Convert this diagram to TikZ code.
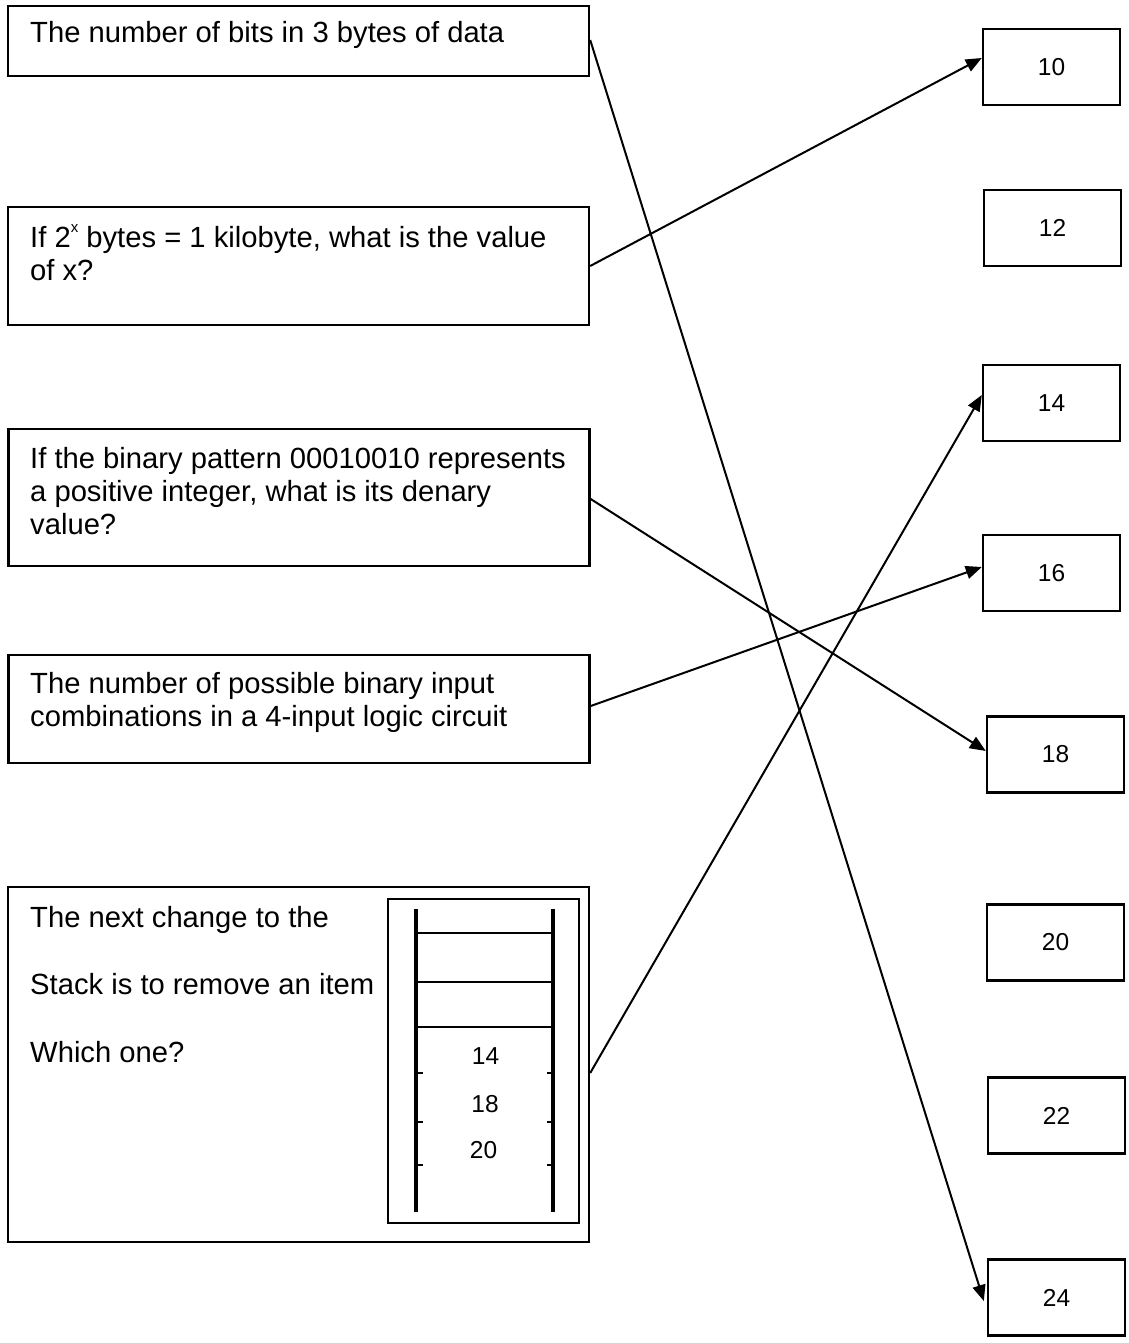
\documentclass[tikz,border=0pt]{standalone}
\usepackage{fontspec}
\setmainfont{Liberation Sans}
\usetikzlibrary{arrows.meta,calc}
\begin{document}
\begin{tikzpicture}[x=1pt,y=-1pt,
  qbox/.style={draw,line width=2.4pt,rectangle,inner sep=0pt,minimum width=581pt},
  abox/.style={draw,line width=2.4pt,rectangle,inner sep=0pt,minimum width=137pt,minimum height=76pt,font=\fontsize{24.5}{28}\selectfont},
  qtext/.style={anchor=base west,inner sep=0pt,font=\fontsize{29.2}{34}\selectfont},
  link/.style={line width=2pt,-{Triangle[length=16pt,width=13pt]}},
  stacknum/.style={inner sep=0pt,font=\fontsize{24.5}{28}\selectfont},
  rail/.style={line width=4.5pt},
  rung/.style={line width=2.5pt},
  tick/.style={line width=2.2pt},
]
\useasboundingbox (0,0) rectangle (1128,1343);

% question boxes
\node[qbox,minimum height=70pt]  (qa) at (298.5,41) {};
\node[qbox,minimum height=118pt] (qb) at (298.5,266) {};
\node[qbox,minimum height=137pt] (qc) at (299,497.5) {};
\node[qbox,minimum height=108pt] (qd) at (299,709) {};
\node[qbox,minimum height=355pt] (qe) at (298.5,1064.5) {};

% question texts
\node[qtext] (ta1) at (30,43) {The number of bits in 3 bytes of data};
\node[qtext] (tb1) at (30,247) {If 2\raisebox{0.5em}{\fontsize{15}{15}\selectfont x} bytes = 1 kilobyte, what is the value};
\node[qtext] (tb2) at (30,280) {of x?};
\node[qtext] (tc1) at (30,468) {If the binary pattern 00010010 represents};
\node[qtext] (tc2) at (30,501) {a positive integer, what is its denary};
\node[qtext] (tc3) at (30,534) {value?};
\node[qtext] (td1) at (30,693) {The number of possible binary input};
\node[qtext] (td2) at (30,726) {combinations in a 4-input logic circuit};
\node[qtext] (te1) at (30,927) {The next change to the};
\node[qtext] (te2) at (30,994) {Stack is to remove an item};
\node[qtext] (te3) at (30,1062) {Which one?};

% stack picture
\draw[line width=1.2pt] (388,899) rectangle (579,1223);
\draw[rail] (416,909) -- (416,1212);
\draw[rail] (553,909) -- (553,1212);
\foreach \yy in {933,982,1027} \draw[rung] (416,\yy) -- (553,\yy);
\foreach \yy in {1073,1122,1165} {
  \draw[tick] (416,\yy) -- (423,\yy);
  \draw[tick] (547,\yy) -- (553,\yy);
}
\node[stacknum] (s14) at (485.5,1056) {14};
\node[stacknum] (s18) at (485,1104) {18};
\node[stacknum] (s20) at (483.5,1150) {20};

% answer boxes
\node[abox] (n10) at (1051.5,67) {10};
\node[abox] (n12) at (1052.5,228) {12};
\node[abox] (n14) at (1051.5,403) {14};
\node[abox] (n16) at (1051.5,573) {16};
\node[abox] (n18) at (1055.5,754.5) {18};
\node[abox] (n20) at (1055.5,942.5) {20};
\node[abox] (n22) at (1056.5,1115.5) {22};
\node[abox] (n24) at (1056.5,1297.5) {24};

% connectors
\draw[link] ($(qa.east)+(0,-1)$) -- ($(n24.west)+(-3,3.5)$);
\draw[link] (qb.east) -- ($(n10.west)+(0,-9)$);
\draw[link] ($(qc.east)+(0,1.5)$) -- ($(n18.west)+(0,-3.5)$);
\draw[link] ($(qd.east)+(0,-3)$) -- ($(n16.west)+(0,-6)$);
\draw[link] ($(qe.east)+(0,8.5)$) -- ($(n14.west)+(0,-8)$);
\end{tikzpicture}
\end{document}
